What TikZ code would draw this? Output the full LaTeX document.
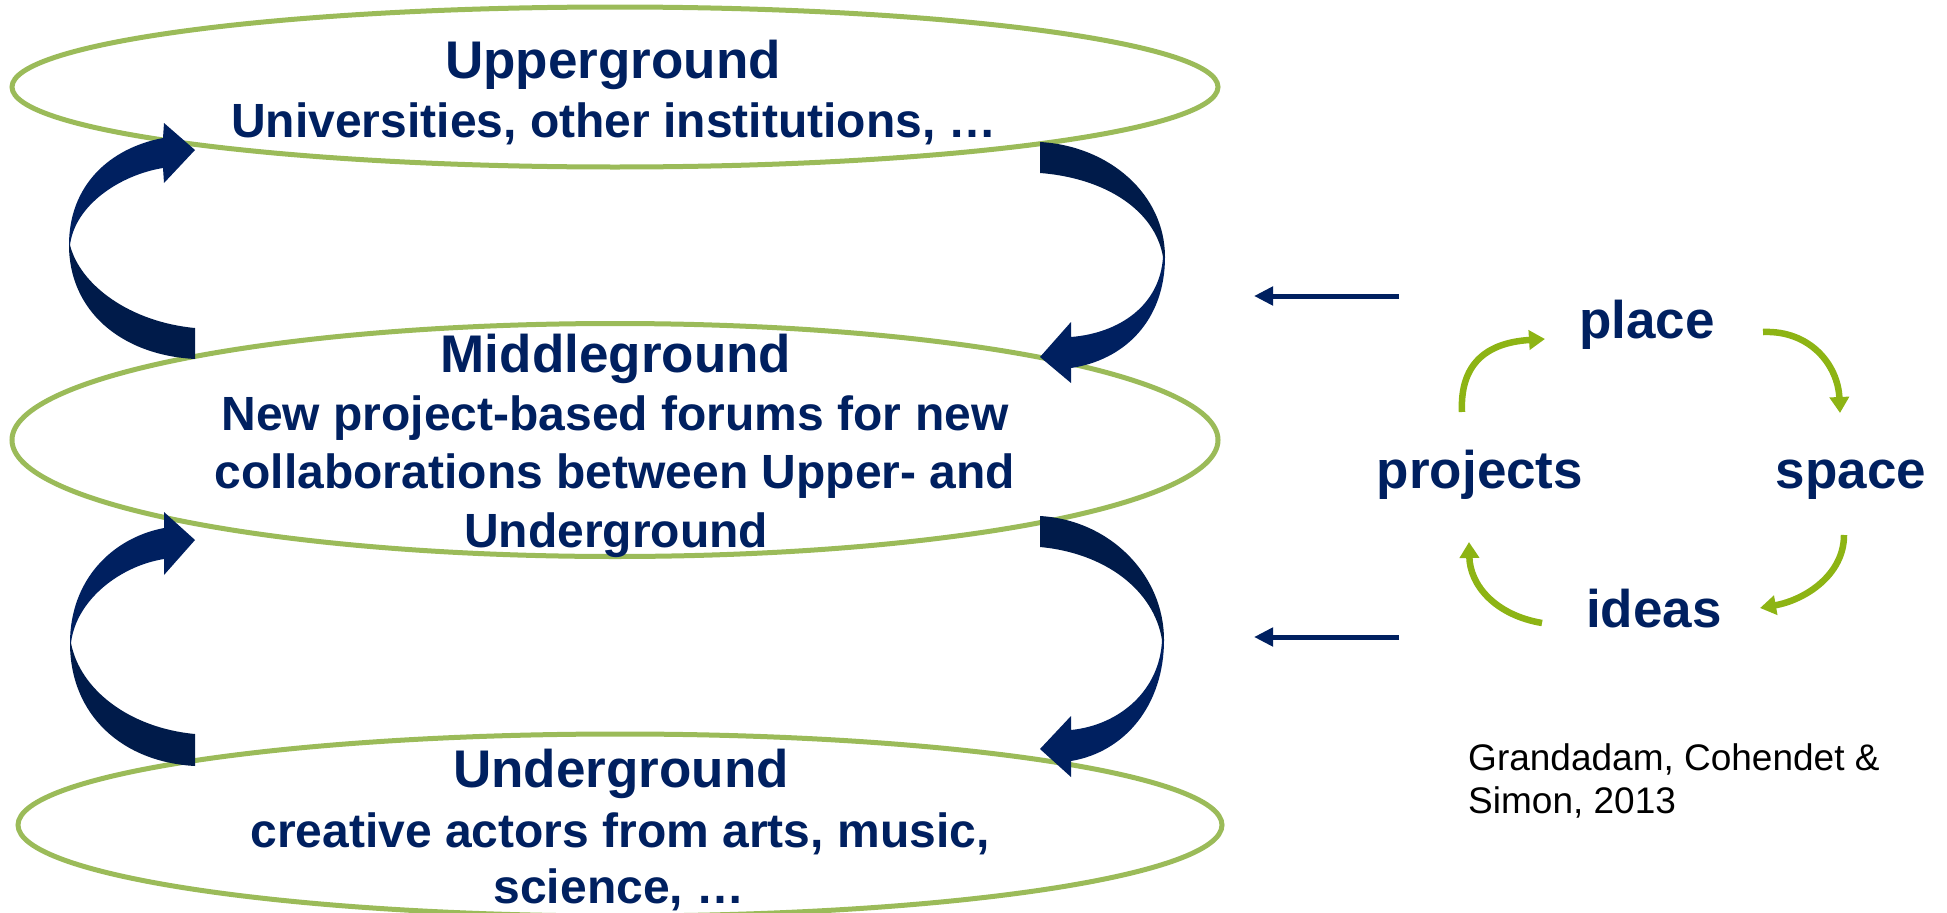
\documentclass[tikz,border=0pt]{standalone}
\usepackage{fontspec}
\setmainfont{Liberation Sans}
\usetikzlibrary{shapes.geometric,arrows.meta}
\definecolor{navy}{RGB}{0,32,96}
\definecolor{navylight}{RGB}{0,32,96}
\definecolor{navydark}{RGB}{0,27,74}
\definecolor{ellgreen}{RGB}{155,187,89}
\definecolor{arrgreen}{RGB}{141,180,20}
\tikzset{
  layer/.style={ellipse, draw=ellgreen, line width=5pt, inner sep=0pt, fill=white},
  headline/.style={font=\fontsize{53}{58}\selectfont\bfseries, text=navy, inner sep=0pt, anchor=base},
  bodyline/.style={font=\fontsize{48}{58}\selectfont\bfseries, text=navy, inner sep=0pt, anchor=base},
  cycword/.style={font=\fontsize{53}{58}\selectfont\bfseries, text=navy, inner sep=0pt, anchor=base},
  citeline/.style={font=\fontsize{37}{43}\selectfont, text=black, inner sep=0pt, anchor=base west},
  navyarrow/.style={draw=navy, line width=5pt, -{Triangle[length=19pt,width=18pt]}},
  greenarrow/.style={draw=arrgreen, line width=6.5pt, -{Triangle[length=16pt,width=19pt]}},
}
\begin{document}
\begin{tikzpicture}[x=1pt,y=-1pt]
\useasboundingbox (0,0) rectangle (1947,913);
% layers
\node[layer, minimum width=1206pt, minimum height=160pt] (upper) at (615,87) {};
\node[layer, minimum width=1206pt, minimum height=233pt] (middle) at (615,440) {};
\node[layer, minimum width=1204pt, minimum height=182pt] (under) at (620,825) {};
% texts
\node[headline] (uptitle) at (613,78) {Upperground};
\node[bodyline] (uptext) at (614,137) {Universities, other institutions, …};
\node[headline] (midtitle) at (616,372) {Middleground};
\node[bodyline] (midtexta) at (615,430) {New project-based forums for new};
\node[bodyline] (midtextb) at (615,488) {collaborations between Upper- and};
\node[bodyline] (midtextc) at (616,547) {Underground};
\node[headline] (untitle) at (621,787) {Underground};
\node[bodyline] (untexta) at (620,847) {creative actors from arts, music,};
\node[bodyline] (untextb) at (619,903) {science, …};
% upper-left block arrow
\fill[navylight] (69,245) .. controls (69,185) and (110,148) .. (163,138) -- (164,123) -- (195,150) -- (164,183) -- (163,168) .. controls (120,175) and (75,205) .. (70,245) -- cycle;
\fill[navydark] (69,245) .. controls (69,310) and (120,355) .. (195,359) -- (195,328) .. controls (130,322) and (80,285) .. (70,245) -- cycle;
% lower-left block arrow
\fill[navylight] (70,643) .. controls (70,580) and (112,538) .. (164,528) -- (164,512) -- (195,540) -- (164,575) -- (164,559) .. controls (120,566) and (76,600) .. (71,643) -- cycle;
\fill[navydark] (70,643) .. controls (70,715) and (122,762) .. (195,766) -- (195,734) .. controls (130,728) and (80,690) .. (71,643) -- cycle;
% upper-right block arrow
\fill[navydark] (1040,142) .. controls (1110,146) and (1165,195) .. (1165,257) -- (1163,257) .. controls (1155,210) and (1105,178) .. (1040,173) -- cycle;
\fill[navylight] (1165,257) .. controls (1165,320) and (1125,360) .. (1071,368) -- (1071,383) -- (1040,357) -- (1071,322) -- (1071,337) .. controls (1120,333) and (1160,305) .. (1163,257) -- cycle;
% lower-right block arrow
\fill[navydark] (1040,516) .. controls (1110,520) and (1164,575) .. (1164,640) -- (1162,640) .. controls (1154,590) and (1105,553) .. (1040,547) -- cycle;
\fill[navylight] (1164,640) .. controls (1164,705) and (1125,752) .. (1071,761) -- (1071,777) -- (1040,749) -- (1071,716) -- (1071,730) .. controls (1120,725) and (1160,690) .. (1162,640) -- cycle;
% cycle words
\node[cycword] (place) at (1647,338) {place};
\node[cycword] (space) at (1851,488) {space};
\node[cycword] (projects) at (1480,488) {projects};
\node[cycword] (ideas) at (1654,627) {ideas};
% green cycle arrows
\coordinate (g1s) at (1462,412); \coordinate (g1e) at (1545,339);
\coordinate (g2s) at (1763,332); \coordinate (g2e) at (1840,413);
\coordinate (g3s) at (1844,535); \coordinate (g3e) at (1760,608);
\coordinate (g4s) at (1542,623); \coordinate (g4e) at (1469,542);
\draw[greenarrow] (g1s) .. controls (1460,370) and (1480,343) .. (g1e);
\draw[greenarrow] (g2s) .. controls (1810,330) and (1838,365) .. (g2e);
\draw[greenarrow] (g3s) .. controls (1844,575) and (1805,600) .. (g3e);
\draw[greenarrow] (g4s) .. controls (1495,615) and (1470,585) .. (g4e);
% navy straight arrows
\coordinate (a1s) at (1399,296); \coordinate (a1e) at (1254,296);
\coordinate (a2s) at (1399,637); \coordinate (a2e) at (1254,637);
\draw[navyarrow] (a1s) -- (a1e);
\draw[navyarrow] (a2s) -- (a2e);
% citation
\node[citeline] (citea) at (1468,770) {Grandadam, Cohendet \&};
\node[citeline] (citeb) at (1468,813) {Simon, 2013};
\end{tikzpicture}
\end{document}
